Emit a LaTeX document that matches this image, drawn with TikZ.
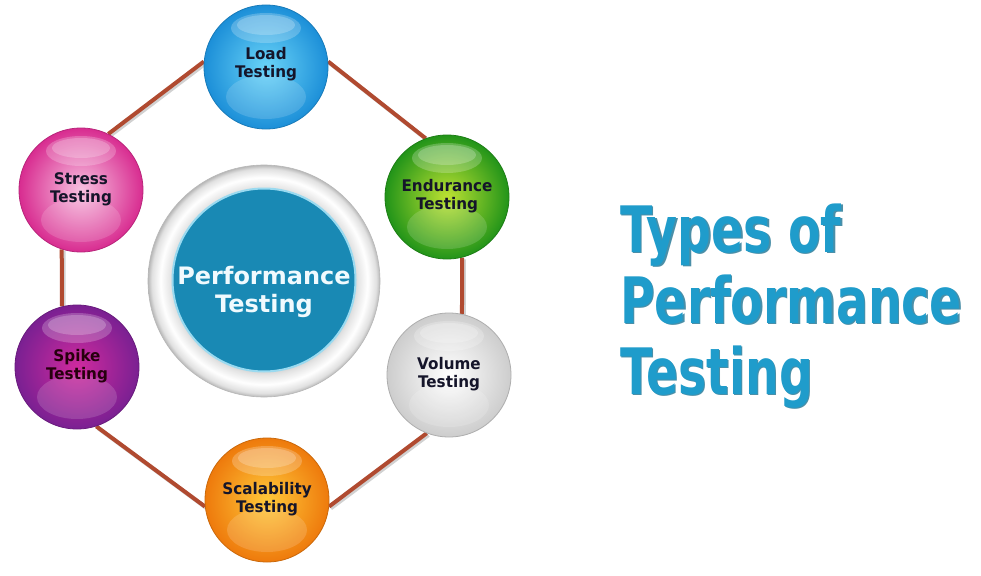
\documentclass[tikz,border=0pt]{standalone}
\usepackage{fontspec}
\setmainfont{DejaVu Sans}
\usepackage{graphicx}
\definecolor{linkc}{HTML}{B04A30}
\definecolor{txtc}{HTML}{15152A}
\definecolor{loadin}{HTML}{6AD4F8}
\definecolor{loadout}{HTML}{1C8FD8}
\definecolor{endin}{HTML}{BDE232}
\definecolor{endout}{HTML}{229419}
\definecolor{volin}{HTML}{FFFFFF}
\definecolor{volout}{HTML}{CDCDCD}
\definecolor{scalin}{HTML}{FFC93A}
\definecolor{scalout}{HTML}{EE7A0C}
\definecolor{spikein}{HTML}{D02A9E}
\definecolor{spikeout}{HTML}{7A2092}
\definecolor{stressin}{HTML}{F8C2E1}
\definecolor{stressout}{HTML}{D82C90}
\definecolor{tealc}{HTML}{1989B4}
\definecolor{glowc}{HTML}{9ADAF0}
\definecolor{titlec}{HTML}{1F9CCB}
\definecolor{titlesh}{HTML}{4A8FA8}
\definecolor{ringg}{HTML}{CFCFCF}
\pgfdeclareradialshading{ringshade}{\pgfpointorigin}{color(0bp)=(white); color(19bp)=(ringg); color(20.3bp)=(white!90!black); color(22.3bp)=(white); color(24.2bp)=(white!88!black); color(25bp)=(white!72!black); color(50bp)=(white!72!black)}
\pgfdeclarelayer{bg}
\pgfsetlayers{bg,main}
\newcommand\sphlabel[2]{\scalebox{0.95}[1]{\fontsize{16}{18}\selectfont\bfseries\begin{tabular}{@{}c@{}}#1\\#2\end{tabular}}}
\newcommand\titletext{\scalebox{0.74}[1]{\fontsize{64}{71}\selectfont\bfseries\begin{tabular}[t]{@{}l@{}}Types of\\Performance\\Testing\end{tabular}}}
\tikzset{
  sphere/.style={circle, minimum size=124pt, inner sep=0pt, shading=radial, line width=0.8pt, text=txtc,
    path picture={
      \fill[white, fill opacity=0.22] ([yshift=39pt]path picture bounding box.center) ellipse [x radius=35pt, y radius=15pt];
      \fill[white, fill opacity=0.22] ([yshift=42pt]path picture bounding box.center) ellipse [x radius=29pt, y radius=10pt];
      \fill[white, fill opacity=0.15] ([yshift=-30pt]path picture bounding box.center) ellipse [x radius=40pt, y radius=22pt];}},
  link/.style={draw=linkc, line width=4pt, preaction={draw=black!18, line width=4pt, transform canvas={xshift=1.8pt, yshift=-1.8pt}}},
  titlestyle/.style={anchor=base west, inner sep=0pt},
}
\begin{document}
\begin{tikzpicture}[x=1pt, y=-1pt]
\useasboundingbox (0,0) rectangle (981,575);
% centre
\node[circle, minimum size=232pt, inner sep=0pt, shading=ringshade, draw=white!72!black, line width=0.6pt] (ring) at (264,281) {};
\node[circle, minimum size=183pt, inner sep=0pt, fill=tealc, draw=glowc, line width=2pt, text=white!94!cyan, font=\fontsize{24}{28}\selectfont\bfseries] (perf) at (264,280) {\raisebox{-19pt}[0pt][0pt]{\begin{tabular}{@{}c@{}}Performance\\Testing\end{tabular}}};
% spheres
\node[sphere, inner color=loadin, outer color=loadout, draw=loadout!85!black] (load) at (266,67) {\raisebox{-2pt}[0pt][0pt]{\sphlabel{Load}{Testing}}};
\node[sphere, inner color=endin, outer color=endout, draw=endout!85!black] (endur) at (447,197) {\sphlabel{Endurance}{Testing}};
\node[sphere, inner color=volin, outer color=volout, draw=volout!85!black] (volume) at (449,375) {\sphlabel{Volume}{Testing}};
\node[sphere, inner color=scalin, outer color=scalout, draw=scalout!85!black] (scal) at (267,500) {\sphlabel{Scalability}{Testing}};
\node[sphere, inner color=spikein, outer color=spikeout, draw=spikeout!85!black, text=black!80!purple] (spike) at (77,367) {\sphlabel{Spike}{Testing}};
\node[sphere, inner color=stressin, outer color=stressout, draw=stressout!85!black] (stress) at (81,190) {\sphlabel{Stress}{Testing}};
% connectors and background
\begin{pgfonlayer}{bg}
\fill[white] (0,0) rectangle (981,575);
\draw[link] (load.175) -- (stress.64);
\draw[link] (load.5) -- (endur.110);
\draw[link] (endur.284) -- (volume.78);
\draw[link] (volume.249) -- (scal.-6);
\draw[link] (scal.186) -- (spike.288);
\draw[link] (spike.104) -- (stress.252);
\end{pgfonlayer}
% title
\node[titlestyle, text=titlesh] (titleshadow) at (621.3,253.3) {\titletext};
\node[titlestyle, text=titlec] (title) at (620,252) {\titletext};
\end{tikzpicture}
\end{document}
